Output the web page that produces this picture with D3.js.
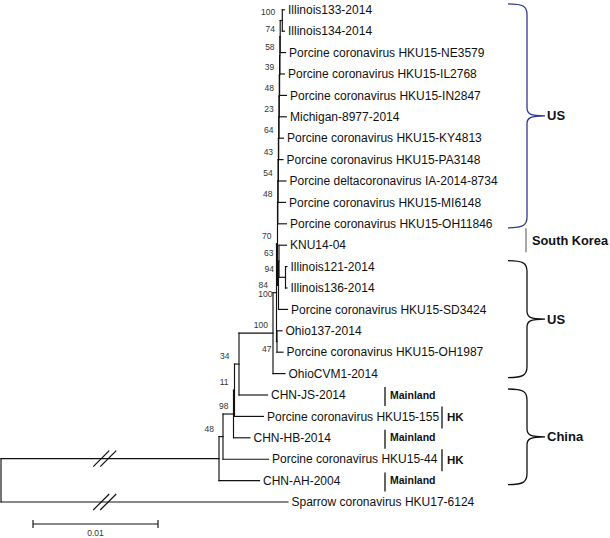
<!DOCTYPE html>
<html><head><meta charset="utf-8">
<script src="https://cdn.jsdelivr.net/npm/d3@7"></script>
<style>html,body{margin:0;padding:0;background:#fff;} svg{display:block;font-family:"Liberation Sans",Arial,sans-serif;}</style>
</head><body><svg id="c" width="610" height="538"></svg>
<script>
// ---- data ----
const leafNames = [
  "Illinois133-2014","Illinois134-2014","Porcine coronavirus HKU15-NE3579","Porcine coronavirus HKU15-IL2768",
  "Porcine coronavirus HKU15-IN2847","Michigan-8977-2014","Porcine coronavirus HKU15-KY4813","Porcine coronavirus HKU15-PA3148",
  "Porcine deltacoronavirus IA-2014-8734","Porcine coronavirus HKU15-MI6148","Porcine coronavirus HKU15-OH11846","KNU14-04",
  "Illinois121-2014","Illinois136-2014","Porcine coronavirus HKU15-SD3424","Ohio137-2014",
  "Porcine coronavirus HKU15-OH1987","OhioCVM1-2014","CHN-JS-2014","Porcine coronavirus HKU15-155",
  "CHN-HB-2014","Porcine coronavirus HKU15-44","CHN-AH-2004","Sparrow coronavirus HKU17-6124"
];
const leafParents = ["c2","c2","c3","c4","c5","c6","c7","c8","c9","c10","c11","n63",
  "n94","n94","n100b","n47","n47","n100o","n34","n11","n98","n48","ing","root"];
const leafLengths = [0.000176,0.000176,0.000424,0.000368,0.000552,0.000576,0.00036,0.000344,0.000608,0.000592,0.000696,0.0006,
  0.00012,0.00012,0.00072,0.0004,0.00048,0.00096,0.00228,0.00232,0.00132,0.00364,0.00324,0.02296];
const nodeIds     = ["root","ing","n48","n98","n11","n34","n100o","n84","n47","n70","n100b","n63","n94",
  "c11","c10","c9","c8","c7","c6","c5","c4","c3","c2"];
const nodeParents = [null,"root","ing","n48","n98","n11","n34","n100o","n84","n84","n70","n100b","n63",
  "n70","c11","c10","c9","c8","c7","c6","c5","c4","c3"];
const nodeLengths = [0,0.01744,0.00032,0.00084,0.00008,0.00036,0.00272,0.00028,0.00004,0.00008,0.00008,0.00004,0.00052,
  0.000024,0.000024,0.000024,0.000024,0.000024,0.000024,0.000024,0.000024,0.000024,0.000168];
const bootstrap   = [null,null,48,98,11,34,100,84,47,70,100,63,94,
  48,54,43,64,23,48,39,58,74,100];
const brokenBranches = ["ing","Sparrow coronavirus HKU17-6124"];
const breakAt = 0.0083;
const scaleBarValue = 0.01;
const scaleBarLabel = "0.01";
const mainlandLeaves = ["CHN-JS-2014","CHN-HB-2014","CHN-AH-2004"];
const hkLeaves = ["Porcine coronavirus HKU15-155","Porcine coronavirus HKU15-44"];
const koreaLeaves = ["KNU14-04"];
const braceNames = ["US","US","China"];
const braceFirstLeaf = ["Illinois133-2014","Illinois121-2014","CHN-JS-2014"];
const braceLastLeaf = ["Porcine coronavirus HKU15-OH11846","OhioCVM1-2014","CHN-AH-2004"];

// ---- layout ----
const svg = d3.select("#c");
svg.append("rect").attr("width",610).attr("height",538).attr("fill","#fff");
const xs = d3.scaleLinear().domain([0, 0.01]).range([1, 126]);
const ys = d3.scaleLinear().domain([0, leafNames.length - 1]).range([9.8, 502]);

const rows = nodeIds.map((id,i)=>({id, parentId: nodeParents[i], len: nodeLengths[i], support: bootstrap[i]}))
  .concat(leafNames.map((n,i)=>({id:n, parentId: leafParents[i], len: leafLengths[i], index:i})));
const root = d3.stratify().id(d=>d.id).parentId(d=>d.parentId)(rows);
root.eachBefore(n=>{ n.cum = n.parent ? n.parent.cum + n.data.len : 0; n.px = xs(n.cum); });
root.eachAfter(n=>{
  if (!n.children) n.py = ys(n.data.index);
  else { const e = d3.extent(n.children, c=>c.py); n.py = (e[0]+e[1])/2; n.lo = e[0]; n.hi = e[1]; }
});
const byId = new Map(root.descendants().map(n=>[n.id,n]));

const g = svg.append("g").attr("stroke","#111").attr("stroke-width",1.15).attr("fill","none").attr("stroke-linecap","square");
root.descendants().forEach(n=>{
  if (n.parent) g.append("line").attr("x1",n.parent.px).attr("x2",n.px).attr("y1",n.py).attr("y2",n.py);
  if (n.children) g.append("line").attr("x1",n.px).attr("x2",n.px).attr("y1",n.lo).attr("y2",n.hi);
});

// break marks
brokenBranches.forEach(id=>{
  const n = byId.get(id), bx = xs(breakAt);
  [-3.5, 3.5].forEach(o=>{
    g.append("line").attr("x1",bx+o-8).attr("y1",n.py+8).attr("x2",bx+o+8).attr("y2",n.py-8).attr("stroke-linecap","butt");
  });
});

// leaf labels
svg.append("g").attr("font-size",12).attr("fill","#111")
  .selectAll("text").data(root.leaves()).join("text")
  .attr("x",d=>d.px+3.5).attr("y",d=>d.py).attr("dy","0.35em").text(d=>d.id);

// bootstrap labels: left-above the node; moved below / pushed down when they collide
const BS = 8.5;
const labelX = d => (d.px - d.parent.px < 10 ? d.parent.px : d.px) - 5;
const placed = [];
const hits = b => placed.filter(p => Math.abs(p.y - b.y) < 9 && p.x0 < b.x1 && b.x0 < p.x1);
const bsLabels = [];
root.eachBefore(d=>{
  if (!d.children || d.data.support == null) return;
  const t = String(d.data.support), x1 = labelX(d), x0 = x1 - t.length*0.556*BS;
  let b = {x0, x1, y: d.py - 8, t};
  if (hits(b).length) {
    const below = {x0, x1, y: d.py + 8, t};
    if (!hits(below).length) b = below;
    else { let h; while ((h = hits(b)).length) b.y = d3.max(h, p=>p.y) + 9; }
  }
  placed.push(b); bsLabels.push(b);
});
svg.append("g").attr("font-size",BS).attr("fill","#333").attr("text-anchor","end")
  .selectAll("text").data(bsLabels).join("text")
  .attr("x",d=>d.x1).attr("y",d=>d.y).attr("dy","0.35em").text(d=>d.t);

// region bars
const rg = svg.append("g").attr("font-weight","bold").attr("fill","#111");
mainlandLeaves.forEach(id=>{
  const n = byId.get(id);
  rg.append("line").attr("x1",385).attr("x2",385).attr("y1",n.py-8).attr("y2",n.py+11).attr("stroke","#111").attr("stroke-width",1.3);
  rg.append("text").attr("x",390).attr("y",n.py).attr("dy","0.35em").attr("font-size",10.5).text("Mainland");
});
hkLeaves.forEach(id=>{
  const n = byId.get(id);
  rg.append("line").attr("x1",442).attr("x2",442).attr("y1",n.py-10).attr("y2",n.py+12).attr("stroke","#111").attr("stroke-width",1.3);
  rg.append("text").attr("x",447).attr("y",n.py+1).attr("dy","0.35em").attr("font-size",11.5).text("HK");
});
koreaLeaves.forEach(id=>{
  const n = byId.get(id);
  rg.append("line").attr("x1",526).attr("x2",526).attr("y1",n.py-17).attr("y2",n.py+7).attr("stroke","#777").attr("stroke-width",1.3);
  rg.append("text").attr("x",532).attr("y",n.py-5).attr("dy","0.35em").attr("font-size",12.8).text("South Korea");
});

// braces
const braceColor = ["#2e3a8f","#111","#111"];
braceNames.forEach((name,i)=>{
  const y0 = byId.get(braceFirstLeaf[i]).py - 6, y1 = byId.get(braceLastLeaf[i]).py + 4, ym = (y0+y1)/2;
  const x0 = 508, x1 = 527, x2 = 545;
  const p = `M${x0},${y0} C${x1-3},${y0} ${x1},${y0+3} ${x1},${y0+11} L${x1},${ym-8} C${x1},${ym-2} ${x1+3},${ym} ${x2},${ym}` +
            ` M${x2},${ym} C${x1+3},${ym} ${x1},${ym+2} ${x1},${ym+8} L${x1},${y1-11} C${x1},${y1-3} ${x1-3},${y1} ${x0},${y1}`;
  svg.append("path").attr("d",p).attr("fill","none").attr("stroke",braceColor[i]).attr("stroke-width",1.3);
  svg.append("text").attr("x",547).attr("y",ym).attr("dy","0.35em").attr("font-weight","bold").attr("font-size",13).attr("fill","#111").text(name);
});

// scale bar
const sbx0 = 33, sbx1 = sbx0 + (xs(scaleBarValue) - xs(0)), sby = 524;
const sb = svg.append("g").attr("stroke","#111").attr("stroke-width",1.15);
sb.append("line").attr("x1",sbx0).attr("x2",sbx1).attr("y1",sby).attr("y2",sby);
sb.append("line").attr("x1",sbx0).attr("x2",sbx0).attr("y1",sby-4).attr("y2",sby+4);
sb.append("line").attr("x1",sbx1).attr("x2",sbx1).attr("y1",sby-4).attr("y2",sby+4);
svg.append("text").attr("x",(sbx0+sbx1)/2).attr("y",533).attr("dy","0.35em").attr("text-anchor","middle")
  .attr("font-size",8.5).attr("fill","#333").text(scaleBarLabel);
</script></body></html>
